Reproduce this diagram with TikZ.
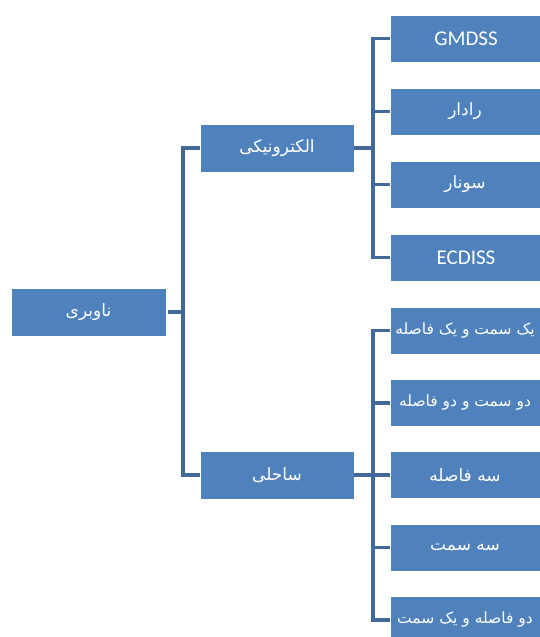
\documentclass[tikz,border=0pt]{standalone}
\usepackage{fontspec}
\setmainfont{Carlito}
\newfontfamily\fafont[Script=Arabic]{DejaVu Sans}
\TeXXeTstate=1
\definecolor{boxblue}{HTML}{4F81BD}
\definecolor{lineblue}{HTML}{41699A}
\tikzset{
  x=1pt,y=1pt,
  bx/.style={fill=boxblue,draw=white,line width=0.8pt,minimum width=154pt,minimum height=48pt,inner sep=0pt},
  leafbx/.style={fill=boxblue,draw=white,line width=0.8pt,minimum width=152pt,minimum height=47pt,inner sep=0pt},
  lbl/.style={text=white,font=\fafont\fontsize{17}{19}\selectfont},
  longlbl/.style={text=white,font=\fafont\fontsize{15.5}{18}\selectfont},
  latin/.style={text=white,font=\fontsize{21}{23}\selectfont},
  conn/.style={draw=lineblue,line width=3.2pt,line cap=butt,line join=miter}
}
\newcommand{\leafnode}[4][lbl]{%
  \node[leafbx] (#2) at (466,#3) {};
  \begin{scope}
    \clip (#2.south west) rectangle (#2.north east);
    \node[#1] at ([xshift=-1pt]#2.center) {#4};
  \end{scope}}
\begin{document}
\begin{tikzpicture}
\useasboundingbox (0,0) rectangle (540,637);
\clip (0,0) rectangle (540,637);
% coordinates: y_tikz = 637 - y_image
\node[bx,minimum width=155pt] (root) at (88.5,325) {};
\node[lbl] at (root.center) {\beginR ناوبری\endR};
\node[bx] (elec) at (277,489) {};
\node[lbl] at (elec.center) {\beginR الکترونیکی\endR};
\node[bx] (coast) at (277,162) {};
\node[lbl] at (coast.center) {\beginR ساحلی\endR};
% upper leaves
\node[leafbx] (g) at (466,598.5) {};
\node[latin] at (g.center) {GMDSS};
\leafnode{radar}{525.5}{\beginR رادار\endR}
\leafnode{sonar}{452.5}{\beginR سونار\endR}
\node[leafbx] (ec) at (466,379.5) {};
\node[latin] at (ec.center) {ECDISS};
% lower leaves
\leafnode[longlbl]{l1}{306.5}{\beginR یک سمت و یک فاصله\endR}
\leafnode[longlbl]{l2}{234}{\beginR دو سمت و دو فاصله\endR}
\leafnode{l3}{162}{\beginR سه فاصله\endR}
\leafnode{l4}{89.5}{\beginR سه سمت\endR}
\leafnode[longlbl]{l5}{17}{\beginR دو فاصله و یک سمت\endR}
% connectors
\coordinate (ra) at (183,325);
\draw[conn] (root.east) ++(1.5,0) -- (ra);
\draw[conn] (elec.west) -- (183,0 |- elec.west) |- (coast.west);
\coordinate (ua) at (373,489);
\draw[conn] (elec.east) -- (ua);
\draw[conn] (g.west) -- (373,0 |- g.west) |- (ec.west);
\draw[conn] (radar.west) -- (373,0 |- radar.west);
\draw[conn] (sonar.west) -- (373,0 |- sonar.west);
\coordinate (la) at (373,162);
\draw[conn] (coast.east) -- (la);
\draw[conn] (l1.west) -- (373,0 |- l1.west) |- (l5.west);
\draw[conn] (l2.west) -- (373,0 |- l2.west);
\draw[conn] (l3.west) -- (373,0 |- l3.west);
\draw[conn] (l4.west) -- (373,0 |- l4.west);
\end{tikzpicture}
\end{document}
